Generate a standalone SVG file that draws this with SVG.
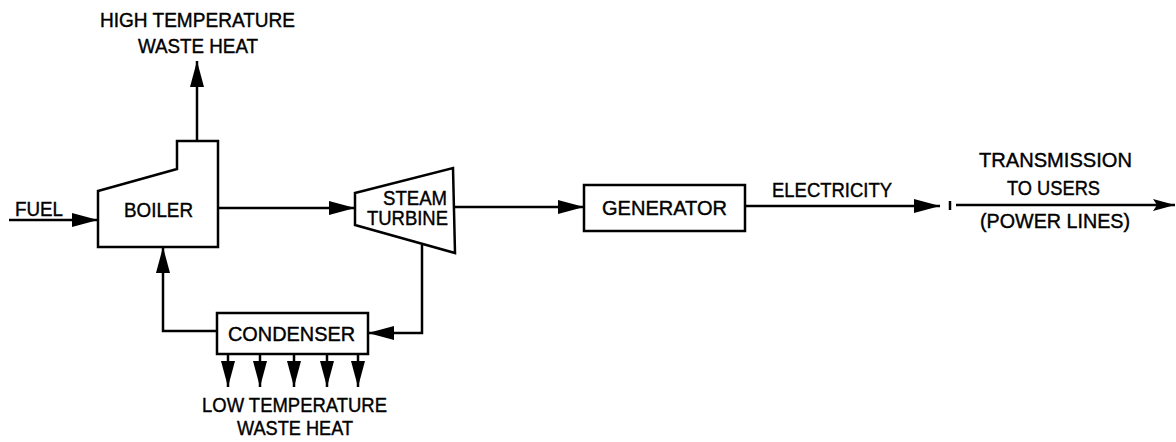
<svg xmlns="http://www.w3.org/2000/svg" width="1176" height="442" viewBox="0 0 1176 442">
<style>
.shape{fill:#fff;stroke:#000;stroke-width:2.5;stroke-linejoin:miter}
.ln{fill:none;stroke:#000;stroke-width:2.5}
.t{font-family:"Liberation Sans",Arial,sans-serif;font-size:20px;fill:#000;stroke:#000;stroke-width:0.4}
</style>
<defs>
<marker id="ah" markerUnits="userSpaceOnUse" markerWidth="28" markerHeight="16" refX="26" refY="8" orient="auto">
<path d="M0,1 L26,8 L0,15 Z" fill="#000"/>
</marker>
<marker id="ahs" markerUnits="userSpaceOnUse" markerWidth="24" markerHeight="14" refX="22" refY="7" orient="auto">
<path d="M0,1 L22,7 L0,13 L4,7 Z" fill="#000"/>
</marker>
</defs>
<g id="connectors">
<line class="ln" x1="9" y1="220" x2="98" y2="220" marker-end="url(#ah)"/>
<line class="ln" x1="197" y1="141" x2="197" y2="61" marker-end="url(#ah)"/>
<line class="ln" x1="218" y1="208" x2="355" y2="208" marker-end="url(#ah)"/>
<line class="ln" x1="454" y1="207" x2="584" y2="207" marker-end="url(#ah)"/>
<line class="ln" x1="745" y1="206" x2="940" y2="206" marker-end="url(#ah)"/>
<line class="ln" x1="950" y1="201" x2="950" y2="210"/>
<line class="ln" x1="956" y1="205" x2="1175" y2="205" marker-end="url(#ahs)"/>
<polyline class="ln" points="422,245 422,333 368,333" marker-end="url(#ah)"/>
<polyline class="ln" points="217,331 163,331 163,247" marker-end="url(#ah)"/>
<line class="ln" x1="228" y1="354" x2="228" y2="387" marker-end="url(#ah)"/>
<line class="ln" x1="260" y1="354" x2="260" y2="387" marker-end="url(#ah)"/>
<line class="ln" x1="294" y1="354" x2="294" y2="387" marker-end="url(#ah)"/>
<line class="ln" x1="327" y1="354" x2="327" y2="387" marker-end="url(#ah)"/>
<line class="ln" x1="358" y1="354" x2="358" y2="387" marker-end="url(#ah)"/>
</g>
<g id="boiler">
<polygon class="shape" points="98,191 177,169 177,141 218,141 218,247 98,247"/>
<text class="t" x="124" y="217" textLength="69" lengthAdjust="spacingAndGlyphs">BOILER</text>
</g>
<g id="turbine">
<polygon class="shape" points="355,193 453,168 455,253 355,225"/>
<text class="t" x="383" y="205" textLength="64" lengthAdjust="spacingAndGlyphs">STEAM</text>
<text class="t" x="367" y="225" textLength="81" lengthAdjust="spacingAndGlyphs">TURBINE</text>
</g>
<g id="generator">
<rect class="shape" x="584" y="185" width="161" height="46"/>
<text class="t" x="602" y="215" textLength="125" lengthAdjust="spacingAndGlyphs">GENERATOR</text>
</g>
<g id="condenser">
<rect class="shape" x="217" y="313" width="151" height="41"/>
<text class="t" x="228" y="341" textLength="127" lengthAdjust="spacingAndGlyphs">CONDENSER</text>
</g>
<g id="labels">
<text class="t" x="100" y="27" textLength="195" lengthAdjust="spacingAndGlyphs">HIGH TEMPERATURE</text>
<text class="t" x="138" y="53" textLength="120" lengthAdjust="spacingAndGlyphs">WASTE HEAT</text>
<text class="t" x="15" y="216" textLength="48" lengthAdjust="spacingAndGlyphs">FUEL</text>
<text class="t" x="772" y="197" textLength="120" lengthAdjust="spacingAndGlyphs">ELECTRICITY</text>
<text class="t" x="979" y="167" textLength="153" lengthAdjust="spacingAndGlyphs">TRANSMISSION</text>
<text class="t" x="1007" y="195" textLength="93" lengthAdjust="spacingAndGlyphs">TO USERS</text>
<text class="t" x="980" y="228" textLength="150" lengthAdjust="spacingAndGlyphs">(POWER LINES)</text>
<text class="t" x="202" y="412" textLength="185" lengthAdjust="spacingAndGlyphs">LOW TEMPERATURE</text>
<text class="t" x="237" y="435" textLength="116" lengthAdjust="spacingAndGlyphs">WASTE HEAT</text>
</g>
</svg>
